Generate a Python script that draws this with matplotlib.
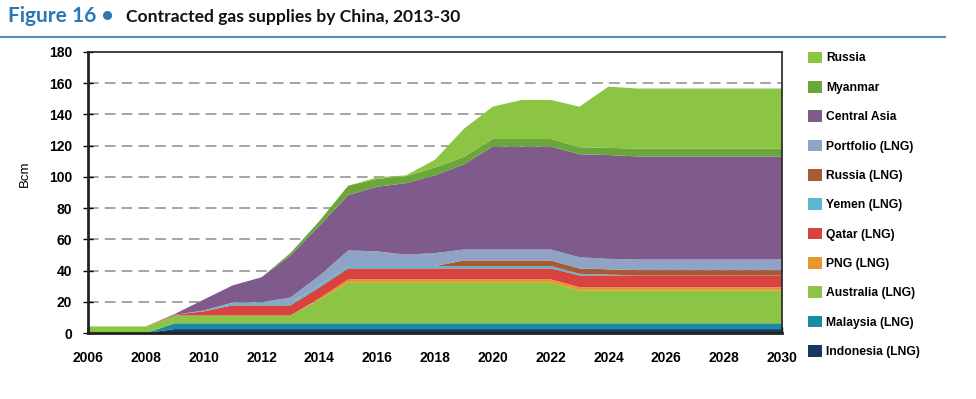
import numpy as np
import matplotlib
matplotlib.use("Agg")
import matplotlib.pyplot as plt
from matplotlib.patches import Patch

plt.rcParams['font.family'] = ['Liberation Sans Narrow', 'Liberation Sans', 'DejaVu Sans']

years = np.arange(2006, 2031)

# stacked from bottom to top (Bcm)
indonesia = [0, 0, 0] + [2.5] * 22
malaysia = [0, 0, 0] + [3.7] * 22
australia = [4.2, 4.2, 4.2, 5, 5, 5, 5, 5, 15] + [26] * 8 + [21] * 8
png = [0] * 8 + [1] + [2.2] * 8 + [2.1] * 8
qatar = [0, 0, 0, 0.5, 2.7, 6.5, 6.5, 6.5, 7] + [7] * 8 + [7.6] * 8
yemen = [0, 0, 0, 0, 0.5, 1.5, 1.5, 1.5, 1.5] + [1.5] * 8 + [1.0, 0.5] + [0] * 6
russia_lng = [0] * 13 + [3.6] * 4 + [3.4] * 8
portfolio = [0, 0, 0, 0, 0, 0.3, 0.5, 3.5, 6, 10, 9.4, 7.3, 8.3, 7, 7, 7, 7, 7.2, 6.7] + [6.8] * 6
central_asia = [0, 0, 0, 0.5, 7, 11, 16, 27, 32, 35.5, 41.4, 45.8, 49.8, 54.5,
                66, 66, 66, 66, 66.5] + [66] * 6
myanmar = [0] * 7 + [1.5, 3, 6, 5, 4.5, 5, 4.8, 4.8, 4.8, 4.8, 4.5, 4.6] + [5] * 6
russia = [0] * 10 + [1, 0.5, 5, 18, 20.7, 25, 25, 26, 39.2] + [38.5] * 6

labels = ['Indonesia (LNG)', 'Malaysia (LNG)', 'Australia (LNG)', 'PNG (LNG)',
          'Qatar (LNG)', 'Yemen (LNG)', 'Russia (LNG)', 'Portfolio (LNG)',
          'Central Asia', 'Myanmar', 'Russia']
colors = ['#163a5f', '#1b8aa5', '#8cc443', '#e8962e', '#d8423f', '#5fb6cf',
          '#a65a35', '#8ea3c6', '#7e5b8b', '#6aa63a', '#8cc443']
series = [indonesia, malaysia, australia, png, qatar, yemen, russia_lng,
          portfolio, central_asia, myanmar, russia]

fig = plt.figure(figsize=(9.76, 3.99), dpi=100)
ax = fig.add_axes([0.0902, 0.1654, 0.7110, 0.7043])

ax.stackplot(years, *series, colors=colors, linewidth=0, zorder=2)

for v in range(20, 180, 20):
    ax.axhline(v, color='#8c8c8c', lw=1.1, dashes=(7, 4), zorder=1)

ax.set_xlim(2006, 2030)
ax.set_ylim(0, 180)
ax.set_yticks(range(0, 181, 20))
ax.set_xticks(years, minor=True)
ax.set_xticks(range(2006, 2031, 2))
ax.tick_params(axis='x', which='both', direction='in', length=4, width=1, pad=13)
ax.tick_params(axis='y', direction='inout', length=7, width=1, pad=8)
ax.tick_params(labelsize=10)
for lab in ax.get_xticklabels() + ax.get_yticklabels():
    lab.set_fontweight('bold')
for s in ax.spines.values():
    s.set_color('#222222')
    s.set_linewidth(1.2)
ax.spines['left'].set_linewidth(2)
ax.spines['bottom'].set_linewidth(2)
ax.set_ylabel('Bcm', fontsize=9.5)
ax.yaxis.set_label_coords(-0.083, 0.565)

handles = [Patch(facecolor=c, edgecolor='none') for c in colors]
fig.legend(handles[::-1], labels[::-1], loc='upper left',
           bbox_to_anchor=(0.817, 0.898), frameon=False,
           handlelength=1.1, handleheight=1.1, handletextpad=0.35,
           labelspacing=1.36, prop={'weight': 'bold', 'size': 8.7})

fig.text(0.008, 0.945, 'Figure 16 \u2022', color='#2b78b4', fontsize=15,
         fontweight='bold', va='baseline', family=['Lato', 'DejaVu Sans'])
fig.text(0.129, 0.945, 'Contracted gas supplies by China, 2013-30', color='#111111',
         fontsize=12.6, fontweight='bold', va='baseline', family=['Lato', 'DejaVu Sans'])
fig.add_artist(plt.Line2D([0, 0.968], [0.908, 0.908], color='#5b8db8', lw=1.5))

fig.savefig('out.png', dpi=100)
